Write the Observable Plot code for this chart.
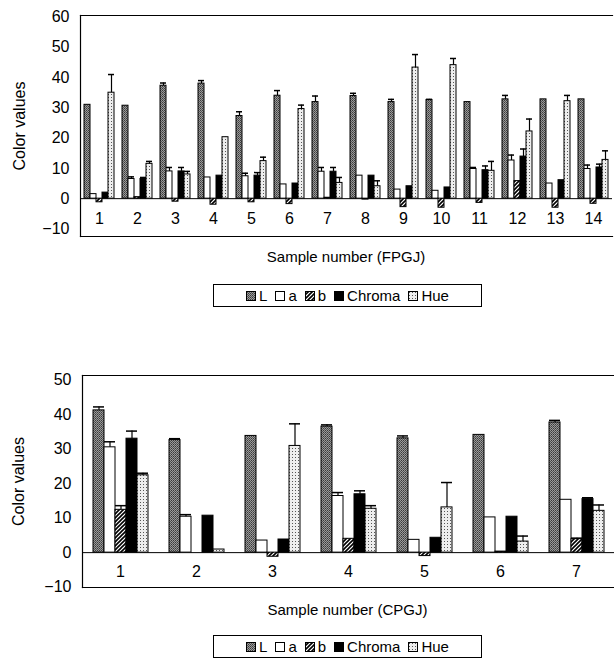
<!DOCTYPE html>
<html>
<head>
<meta charset="utf-8">
<script src="https://cdn.jsdelivr.net/npm/d3@7"></script>
<script src="https://cdn.jsdelivr.net/npm/@observablehq/plot@0.6"></script>
<style>
  html, body { margin: 0; padding: 0; background: #fff; }
  body { width: 614px; height: 664px; position: relative; overflow: hidden;
         font-family: "Liberation Sans", Arial, Helvetica, sans-serif; color: #000; }
  .abs { position: absolute; }
  .xtitle { font-size: 15px; line-height: 18px; text-align: center; }
  .legend { border: 1px solid #000; box-sizing: border-box; display: flex; align-items: center;
            justify-content: center; font-size: 15px; gap: 8px; }
  .legend span.item { display: inline-flex; align-items: center; gap: 3px; }
</style>
</head>
<body>
<svg width="0" height="0" style="position:absolute">
  <defs>
    <pattern id="pL" width="2" height="2" patternUnits="userSpaceOnUse">
      <rect width="2" height="2" fill="#9a9a9a"/>
      <rect width="1" height="1" fill="#3a3a3a"/>
      <rect x="1" y="1" width="1" height="1" fill="#555"/>
    </pattern>
    <pattern id="pB" width="4" height="4" patternUnits="userSpaceOnUse">
      <rect width="4" height="4" fill="#fff"/>
      <path d="M-1,1 l2,-2 M0,4 l4,-4 M3,5 l2,-2" stroke="#000" stroke-width="1.6"/>
    </pattern>
    <pattern id="pH" width="3" height="3" patternUnits="userSpaceOnUse">
      <rect width="3" height="3" fill="#eeeeee"/>
      <rect x="1" y="1" width="1" height="1" fill="#555"/>
    </pattern>
  </defs>
</svg>
<div id="c1" class="abs" style="left:0;top:0"></div>
<div class="abs xtitle" style="left:78px;top:248px;width:536px">Sample number (FPGJ)</div>
<div id="lg1" class="abs legend" style="left:213px;top:284px;width:269px;height:23px"></div>
<div id="c2" class="abs" style="left:0;top:360px"></div>
<div class="abs xtitle" style="left:81px;top:601px;width:533px">Sample number (CPGJ)</div>
<div id="lg2" class="abs legend" style="left:213px;top:635px;width:269px;height:23px"></div>
<script>
const series = ["L", "a", "b", "Chroma", "Hue"];
const seriesFills = ["url(#pL)", "#ffffff", "url(#pB)", "#000000", "url(#pH)"];

// FPGJ (top chart), samples 1..14
const samplesF = ["1","2","3","4","5","6","7","8","9","10","11","12","13","14"];
const L_F      = [31, 30.7, 37.3, 38, 27.3, 34, 31.9, 33.9, 31.9, 32.6, 31.9, 32.8, 32.8, 32.8];
const L_F_sd   = [0, 0, 0.9, 1, 1.4, 1.7, 2, 0.9, 0.9, 0.2, 0, 1.3, 0, 0];
const a_F      = [1.5, 6.5, 9, 7, 7.4, 4.7, 8.9, 7.6, 3, 2.6, 9.8, 12.6, 5, 9.8];
const a_F_sd   = [0, 0.7, 1.3, 0, 1, 0, 1.4, 0, 0, 0, 0.5, 1.8, 0, 1.3];
const b_F      = [-1.2, 0.5, -1, -2, -1.2, -1.8, 0.3, -0.3, -2.8, -3, -1.4, 5.8, -3, -1.7];
const b_F_sd   = [0, 0, 0, 0, 0, 0, 0, 0, 0, 0, 0, 0, 0, 0];
const C_F      = [2, 6.5, 9, 7.6, 7.6, 5, 8.9, 7.6, 4.1, 3.7, 9.4, 13.9, 6.1, 10.3];
const C_F_sd   = [0, 0.5, 1.3, 0, 1, 0, 1.4, 0, 0, 0, 1.4, 2.5, 0, 1.1];
const H_F      = [35, 11.5, 8, 20.3, 12.4, 29.6, 5.2, 4.1, 43.3, 44.1, 9.2, 22.2, 32.2, 12.8];
const H_F_sd   = [6, 0.8, 1, 0, 1.3, 1.3, 1.8, 1.8, 4.3, 2.2, 3.1, 4.1, 1.9, 3];

// CPGJ (bottom chart), samples 1..7
const samplesC = ["1","2","3","4","5","6","7"];
const L_C      = [41.2, 32.6, 33.8, 36.5, 33.1, 34.1, 37.7];
const L_C_sd   = [1, 0.4, 0, 0.5, 0.7, 0, 0.6];
const a_C      = [30.5, 10.4, 3.5, 16.4, 3.7, 10.2, 15.3];
const a_C_sd   = [1.6, 0.6, 0, 1, 0, 0, 0];
const b_C      = [12.4, 0, -1.2, 4, -1, 0.3, 3.9];
const b_C_sd   = [1.2, 0, 0, 0, 0, 0, 0.3];
const C_C      = [33, 10.7, 3.8, 16.9, 4.3, 10.4, 15.5];
const C_C_sd   = [2.2, 0, 0, 1, 0, 0, 0.4];
const H_C      = [22.4, 0.9, 30.9, 12.7, 13.1, 3.2, 12.1];
const H_C_sd   = [0.6, 0, 6.4, 0.9, 7.2, 1.6, 1.7];

const ticksF = [-10, 0, 10, 20, 30, 40, 50, 60];
const ticksC = [-10, 0, 10, 20, 30, 40, 50];

function buildRows(samples, vals, sds) {
  const rows = [];
  samples.forEach((s, i) => {
    series.forEach((k, j) => rows.push({sample: s, series: k, value: vals[j][i], sd: sds[j][i]}));
  });
  return rows;
}

const rowsF = buildRows(samplesF, [L_F, a_F, b_F, C_F, H_F], [L_F_sd, a_F_sd, b_F_sd, C_F_sd, H_F_sd]);
const rowsC = buildRows(samplesC, [L_C, a_C, b_C, C_C, H_C], [L_C_sd, a_C_sd, b_C_sd, C_C_sd, H_C_sd]);

function chart({samples, rows, yDomain, ticks, marginLeft, height, labelDy, padOuter, labelOffset}) {
  const err = rows.filter(d => d.sd > 0);
  return Plot.plot({
    width: 614, height, marginTop: 15, marginBottom: 4, marginLeft, marginRight: 0,
    style: {fontFamily: "'Liberation Sans', Arial, Helvetica, sans-serif", fontSize: "16px", color: "#000", background: "transparent", overflow: "visible"},
    fx: {domain: samples, padding: 0, label: null},
    x: {domain: series, paddingInner: 0, paddingOuter: padOuter, axis: null},
    y: {domain: yDomain, axis: null},
    color: {domain: series, range: seriesFills},
    marks: [
      Plot.ruleY([0], {stroke: "#000", strokeWidth: 1}),
      Plot.barY(rows, {fx: "sample", x: "series", y: "value", fill: "series", stroke: "#000", strokeWidth: 1}),
      Plot.ruleX(err, {fx: "sample", x: "series", y1: d => d.value, y2: d => d.value + d.sd, stroke: "#000", strokeWidth: 1.2}),
      Plot.tickY(err, {fx: "sample", x: "series", y: d => d.value + d.sd, stroke: "#000", strokeWidth: 1.5}),
      Plot.frame({anchor: "top", facet: "super", strokeWidth: 1.2}),
      Plot.frame({anchor: "left", facet: "super", strokeWidth: 1.2}),
      Plot.frame({anchor: "bottom", facet: "super", strokeWidth: 1.2}),
      Plot.axisY({ticks, tickSize: 0, tickPadding: 11, label: "Color values", labelAnchor: "center", labelArrow: "none", labelOffset}),
      Plot.axisFx({anchor: "bottom", tickSize: 0, label: null, dy: labelDy})
    ]
  });
}

document.getElementById("c1").append(chart({
  samples: samplesF, rows: rowsF, yDomain: [-12.5, 60.5], ticks: ticksF,
  marginLeft: 78, height: 240, labelDy: -33, padOuter: 0.6, labelOffset: 67
}));
document.getElementById("c2").append(chart({
  samples: samplesC, rows: rowsC, yDomain: [-10.1, 51.3], ticks: ticksC,
  marginLeft: 81, height: 231, labelDy: -31, padOuter: 0.7, labelOffset: 70
}));

function legend(id) {
  const el = document.getElementById(id);
  series.forEach((s, i) => {
    const item = document.createElement("span");
    item.className = "item";
    item.innerHTML = `<svg width="10" height="10"><rect x="0.5" y="0.5" width="9" height="9" fill="${seriesFills[i]}" stroke="#000"/></svg><span>${s}</span>`;
    el.append(item);
  });
}
legend("lg1");
legend("lg2");
</script>
</body>
</html>
